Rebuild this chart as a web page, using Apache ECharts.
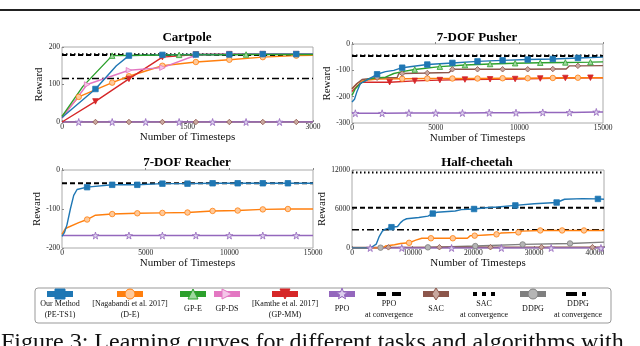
<!DOCTYPE html>
<html>
<head>
<meta charset="utf-8">
<script src="https://cdn.jsdelivr.net/npm/echarts@6/dist/echarts.min.js"></script>
<style>
  html, body { margin: 0; padding: 0; background: #fff; }
  #chart { width: 640px; height: 346px; }
</style>
</head>
<body>
<div id="chart"></div>
<script>
// ---- data ([timestep, reward]) ----
const cartpolePETS = [[0,12],[400,88],[650,150],[800,177],[1200,179],[1600,180],[2000,180],[2400,181],[2800,181],[3000,181]]
const cartpoleDE   = [[0,15],[200,67],[600,105],[800,122],[1200,150],[1600,160],[2000,166],[2400,173],[2800,177],[3000,178]]
const cartpoleGPE  = [[0,15],[250,95],[600,177],[1000,178],[1400,179],[1800,179],[2200,180],[2600,180],[3000,180]]
const cartpoleGPDS = [[0,10],[300,100],[800,138],[1200,145],[1600,178],[2000,181],[2400,182],[2800,182],[3000,182]]
const cartpoleGPMM = [[0,0],[400,55],[800,115],[1200,173],[1600,180],[2000,181],[2400,181],[2800,181],[3000,181]]
const cartpolePPO  = [[0,0],[200,0],[600,0],[1000,0],[1400,0],[1800,0],[2200,0],[2600,0],[3000,0]]
const cartpoleSAC  = [[0,0],[400,0],[800,0],[1200,0],[1600,0],[2000,0],[2400,0],[2800,0],[3000,0]]
const cartpoleConv = { ppo: 179, sac: 181, ddpg: 116 }

const pusherPETS = [[0,-220],[150,-210],[300,-180],[500,-150],[800,-140],[1500,-115],[2000,-105],[2500,-100],[3000,-90],[4500,-78],[6000,-72],[7500,-66],[9000,-62],[10500,-59],[12000,-57],[13500,-53],[15000,-50]]
const pusherGPE  = [[0,-195],[200,-170],[500,-150],[1000,-132],[2000,-126],[2500,-112],[3000,-105],[3750,-97],[5250,-86],[6750,-80],[8250,-76],[9750,-73],[11250,-71],[12750,-70],[14250,-69],[15000,-68]]
const pusherSAC  = [[0,-170],[300,-150],[600,-135],[1500,-128],[2700,-127],[2800,-112],[3000,-112],[4500,-110],[5800,-108],[6000,-96],[7500,-96],[9000,-96],[10500,-96],[12000,-95],[12800,-95],[13000,-83],[13500,-83],[15000,-82]]
const pusherDE   = [[0,-170],[300,-150],[600,-140],[1500,-133],[3000,-132],[4500,-131],[6000,-131],[7500,-131],[9000,-130],[10500,-130],[12000,-129],[13500,-128],[15000,-128]]
const pusherGPMM = [[0,-180],[300,-160],[600,-145],[2250,-145],[3750,-140],[5250,-137],[6750,-135],[8250,-134],[9750,-133],[11250,-131],[12750,-129],[14250,-128],[15000,-128]]
const pusherPPO  = [[0,-263],[200,-263],[1800,-263],[3400,-262],[5000,-262],[6600,-262],[8200,-261],[9800,-261],[11400,-260],[13000,-260],[14600,-258],[15000,-258]]
const pusherConv = { ppo: -46, sac: -44 }

const reacherPETS = [[0,-170],[150,-160],[300,-140],[500,-100],[700,-65],[900,-50],[1500,-44],[3000,-38],[4500,-38],[6000,-35],[7500,-35],[9000,-34],[10500,-34],[12000,-34],[13500,-34],[15000,-34]]
const reacherDE   = [[0,-165],[200,-150],[1000,-135],[1500,-127],[2000,-116],[3000,-113],[4500,-111],[6000,-110],[7500,-109],[9000,-105],[10500,-104],[12000,-101],[13500,-100],[15000,-100]]
const reacherPPO  = [[0,-168],[2000,-168],[4000,-168],[6000,-168],[8000,-168],[10000,-168],[12000,-168],[14000,-168],[15000,-168]]
const reacherConv = { ppo: -34 }

const cheetahPETS = [[0,0],[3000,0],[4000,600],[4500,1800],[5000,2600],[5500,2900],[6500,3200],[7500,3300],[8000,3900],[8500,4300],[9000,4500],[11000,4700],[12500,4900],[13300,5300],[14000,5500],[17000,5700],[18000,5900],[20100,6000],[22000,6200],[24000,6300],[26900,6550],[30000,6800],[33700,7000],[35000,7500],[38000,7600],[40500,7550],[41500,7500]]
const cheetahDE   = [[0,0],[5000,0],[5500,300],[7000,500],[8000,700],[9400,800],[10500,1200],[11500,1500],[13000,1500],[16600,1500],[19000,1500],[19500,1900],[20200,1900],[22000,2000],[23800,2100],[24500,2300],[27400,2400],[28000,2600],[31000,2700],[34600,2700],[38200,2700],[41500,2700]]
const cheetahDDPG = [[0,50],[4700,50],[12500,100],[20300,300],[28100,550],[35900,700],[41500,900]]
const cheetahSAC  = [[0,100],[6000,100],[14400,120],[22800,120],[31200,130],[39600,130],[41500,130]]
const cheetahPPO  = [[0,0],[3000,0],[8200,0],[16400,0],[24600,0],[32800,0],[41000,0],[41500,0]]
const cheetahConv = { ppo: 6200, sac: 11600, ddpg: 2800 }

const titles = ['Cartpole', '7-DOF Pusher', '7-DOF Reacher', 'Half-cheetah']
const legendLabels = [
  'Our Method\n(PE-TS1)', '[Nagabandi et al. 2017]\n(D-E)', 'GP-E', 'GP-DS',
  '[Kamthe et al. 2017]\n(GP-MM)', 'PPO', 'PPO\nat convergence', 'SAC',
  'SAC\nat convergence', 'DDPG', 'DDPG\nat convergence'
]

// ---- styles ----
const SERIF = 'Liberation Serif'
const COL = { pets: '#1f77b4', de: '#ff7f0e', gpe: '#2ca02c', gpds: '#e377c2', gpmm: '#d62728', ppo: '#9467bd', sac: '#8c564b', ddpg: '#7f7f7f' }
const FILL = { pets: '#1f77b4', de: '#ffc999', gpe: '#9fd89f', gpds: '#f5c6e8', gpmm: '#d62728', ppo: '#ddd0ee', sac: '#c9a79e', ddpg: '#b5b5b5' }
const STAR = 'path://M50,0L61,35L98,35L68,57L79,91L50,70L21,91L32,57L2,35L39,35Z'
const SYM = { pets: 'rect', de: 'circle', gpe: 'triangle', gpds: 'path://M0,0L10,5L0,10Z', gpmm: 'path://M0,0L10,0L5,10Z', ppo: STAR, sac: 'diamond', ddpg: 'circle' }
const XMAX = [3000, 15000, 15000, 41500]

const grids = [
  { left: 62, top: 47, width: 251, height: 75 },
  { left: 352, top: 44, width: 251, height: 79 },
  { left: 62, top: 170, width: 251, height: 78 },
  { left: 352, top: 170, width: 252, height: 78 }
]

// markers every `step` timesteps starting at `from`, like matplotlib's markevery
const curve = (gi, key, data, from, step) => ({
  type: 'line', xAxisIndex: gi, yAxisIndex: gi, data, z: 3,
  lineStyle: { color: COL[key], width: 1.4 },
  itemStyle: { color: FILL[key], borderColor: COL[key], borderWidth: 0.8 },
  symbolSize: key === 'ppo' ? 7 : 5.5,
  showAllSymbol: true,
  symbol: v => (v[0] >= from && v[0] < XMAX[gi] && (v[0] - from) % step === 0) ? SYM[key] : 'none'
})

const DASH = { ppo: [5, 3], sac: [1.5, 2.5], ddpg: [7, 3, 2, 3] }
const conv = (gi, kind, y) => ({
  type: 'line', xAxisIndex: gi, yAxisIndex: gi, z: 2, symbol: 'none',
  data: [[0, y], [XMAX[gi], y]],
  lineStyle: { color: '#000', width: kind === 'ddpg' ? 1.5 : 2, type: DASH[kind] }
})

const axisFont = { fontFamily: SERIF, fontSize: 7.5, color: '#222' }
const yAxes = [
  { min: 0, max: 200, interval: 100 },
  { min: -300, max: 0, interval: 100 },
  { min: -200, max: 0, interval: 100 },
  { min: 0, max: 12000, interval: 6000 }
].map((a, i) => ({
  type: 'value', gridIndex: i, ...a,
  name: 'Reward', nameLocation: 'middle', nameGap: 17,
  nameTextStyle: { fontFamily: SERIF, fontSize: 11, color: '#111' },
  axisLine: { show: false }, splitLine: { show: false },
  axisTick: { show: true, inside: true, length: 2, lineStyle: { color: '#888' } },
  axisLabel: { ...axisFont, margin: 2, formatter: v => String(v) }
}))
const xAxes = [
  { min: 0, max: 3000, interval: 1500 },
  { min: 0, max: 15000, interval: 5000 },
  { min: 0, max: 15000, interval: 5000 },
  { min: 0, max: 41500, interval: 10000 }
].map((a, i) => ({
  type: 'value', gridIndex: i, ...a,
  name: 'Number of Timesteps', nameLocation: 'middle', nameGap: 10,
  nameTextStyle: { fontFamily: SERIF, fontSize: 11, color: '#111' },
  axisLine: { show: false }, splitLine: { show: false },
  axisTick: { show: true, inside: true, length: 2, lineStyle: { color: '#888' } },
  axisLabel: { ...axisFont, margin: 1, formatter: v => (v % a.interval === 0 ? String(v) : '') }
}))

const series = [
  conv(0, 'ddpg', cartpoleConv.ddpg), conv(0, 'ppo', cartpoleConv.ppo), conv(0, 'sac', cartpoleConv.sac),
  curve(0, 'sac', cartpoleSAC, 400, 400), curve(0, 'ppo', cartpolePPO, 200, 400),
  curve(0, 'de', cartpoleDE, 200, 200), curve(0, 'gpmm', cartpoleGPMM, 400, 400),
  curve(0, 'gpds', cartpoleGPDS, 100, 100), curve(0, 'pets', cartpolePETS, 400, 400),
  curve(0, 'gpe', cartpoleGPE, 600, 800),

  conv(1, 'ppo', pusherConv.ppo), conv(1, 'sac', pusherConv.sac),
  curve(1, 'ppo', pusherPPO, 200, 1600), curve(1, 'gpmm', pusherGPMM, 2250, 1500),
  curve(1, 'de', pusherDE, 3000, 1500), curve(1, 'sac', pusherSAC, 1500, 1500),
  curve(1, 'gpe', pusherGPE, 3750, 1500), curve(1, 'pets', pusherPETS, 1500, 1500),

  conv(2, 'ppo', reacherConv.ppo),
  curve(2, 'ppo', reacherPPO, 2000, 2000), curve(2, 'de', reacherDE, 1500, 1500),
  curve(2, 'pets', reacherPETS, 1500, 1500),

  conv(3, 'sac', cheetahConv.sac), conv(3, 'ppo', cheetahConv.ppo), conv(3, 'ddpg', cheetahConv.ddpg),
  curve(3, 'ddpg', cheetahDDPG, 4700, 7800), curve(3, 'sac', cheetahSAC, 6000, 8400),
  curve(3, 'ppo', cheetahPPO, 3000, 5200), curve(3, 'de', cheetahDE, 9400, 3600),
  curve(3, 'pets', cheetahPETS, 6500, 6800)
]
// Half-cheetah PPO stars: one at 3000, then every 8200
series[27].symbol = v => (v[0] === 3000 || (v[0] >= 8200 && v[0] < 41500 && v[0] % 8200 === 0)) ? STAR : 'none'

// ---- graphics: titles, legend box, rules ----
const titlePos = [[187, 38], [477, 38], [187, 163], [477, 163]]
const graphic = titles.map((t, i) => ({
  type: 'text', x: titlePos[i][0], y: titlePos[i][1],
  style: { text: t, fontFamily: SERIF, fontSize: 13, fontWeight: 'bold', fill: '#000', align: 'center', verticalAlign: 'middle' }
}))
graphic.push({ type: 'rect', shape: { x: 0, y: 9, width: 640, height: 2 }, style: { fill: '#222' } })
graphic.push({ type: 'rect', shape: { x: 35, y: 288, width: 576, height: 35, r: 3 }, style: { fill: 'none', stroke: '#999', lineWidth: 1 } })
graphic.push({
  type: 'text', x: 1, y: 331,
  style: { text: 'Figure 3: Learning curves for different tasks and algorithms with', fontFamily: SERIF, fontSize: 24, fill: '#111' }
})

const legendX = [60, 130, 193, 227, 285, 342, 389, 436, 484, 533, 578]
const legendKeys = ['pets', 'de', 'gpe', 'gpds', 'gpmm', 'ppo', 'ppoC', 'sac', 'sacC', 'ddpg', 'ddpgC']
const iy = 294
const poly = (pts, key) => ({ type: 'polygon', shape: { points: pts }, style: { fill: FILL[key], stroke: COL[key], lineWidth: 1 } })
const starPts = (cx, cy, r) => {
  const p = []
  for (let k = 0; k < 10; k++) {
    const a = -Math.PI / 2 + k * Math.PI / 5, rr = k % 2 ? r * 0.42 : r
    p.push([cx + rr * Math.cos(a), cy + rr * Math.sin(a)])
  }
  return p
}
legendKeys.forEach((key, i) => {
  const cx = legendX[i]
  if (key.endsWith('C')) {
    const segs = key === 'ppoC' ? [[-12, 9], [3, 9]] : key === 'sacC' ? [[-11, 4], [-2, 4], [7, 4]] : [[-12, 11], [4, 4]]
    segs.forEach(s => graphic.push({ type: 'rect', shape: { x: cx + s[0], y: iy - 2, width: s[1], height: 4 }, style: { fill: '#000' } }))
  } else {
    graphic.push({ type: 'rect', shape: { x: cx - 13, y: iy - 3, width: 26, height: 6 }, style: { fill: COL[key] } })
    const s = 5
    if (key === 'pets') graphic.push({ type: 'rect', shape: { x: cx - s, y: iy - s, width: 2 * s, height: 2 * s }, style: { fill: COL[key], stroke: COL[key] } })
    else if (key === 'de' || key === 'ddpg') graphic.push({ type: 'circle', shape: { cx, cy: iy, r: s }, style: { fill: FILL[key], stroke: COL[key], lineWidth: 1 } })
    else if (key === 'gpe') graphic.push(poly([[cx, iy - s], [cx + s, iy + s], [cx - s, iy + s]], key))
    else if (key === 'gpds') graphic.push(poly([[cx - s, iy - s], [cx + s, iy], [cx - s, iy + s]], key))
    else if (key === 'gpmm') graphic.push(poly([[cx - s, iy - s], [cx + s, iy - s], [cx, iy + s]], key))
    else if (key === 'ppo') graphic.push(poly(starPts(cx, iy, 6), key))
    else if (key === 'sac') graphic.push(poly([[cx, iy - s - 1], [cx + s - 1, iy], [cx, iy + s + 1], [cx - s + 1, iy]], key))
  }
  graphic.push({
    type: 'text', x: cx, y: 309,
    style: { text: legendLabels[i], fontFamily: SERIF, fontSize: 8, lineHeight: 11, fill: '#111', align: 'center', verticalAlign: 'middle' }
  })
})

const chart = echarts.init(document.getElementById('chart'))
chart.setOption({
  animation: false,
  backgroundColor: '#fff',
  grid: grids.map(g => ({ ...g, show: true, borderColor: '#aaa', borderWidth: 1 })),
  xAxis: xAxes,
  yAxis: yAxes,
  series,
  graphic
})
</script>
</body>
</html>
